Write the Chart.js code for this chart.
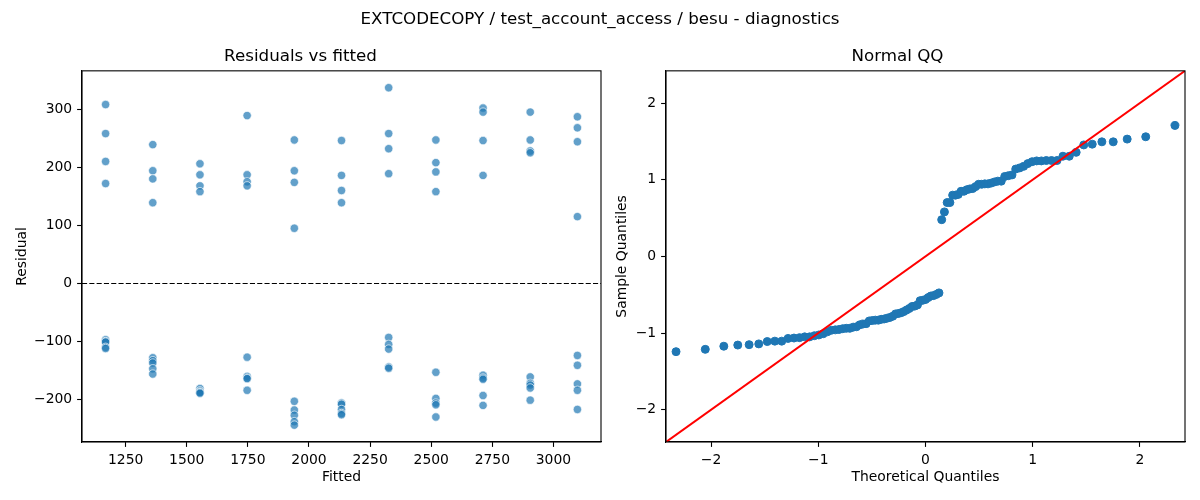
<!DOCTYPE html>
<html>
<head>
<meta charset="utf-8">
<script src="https://cdn.jsdelivr.net/npm/chart.js@4.4.1/dist/chart.umd.min.js"></script>
<style>
html, body { margin: 0; padding: 0; background: #ffffff; }
#wrap { position: relative; width: 1200px; height: 500px; overflow: hidden; font-family: "DejaVu Sans", sans-serif; }
#sup { position: absolute; left: 0; top: 8px; width: 1200px; text-align: center; font-size: 16.7px; line-height: 20px; color: #000; z-index: 2; }
#box1 { position: absolute; left: 0; top: 0; width: 610px; height: 500px; }
#box2 { position: absolute; left: 610px; top: 0; width: 590px; height: 500px; }
</style>
</head>
<body>
<div id="wrap">
  <div id="sup">EXTCODECOPY / test_account_access / besu - diagnostics</div>
  <div id="box1"><canvas id="c1"></canvas></div>
  <div id="box2"><canvas id="c2"></canvas></div>
</div>
<script>
// ---- Data ----
const fittedGroups = [1168, 1361, 1554, 1747, 1940, 2133, 2326, 2519, 2712, 2905, 3098];
const residualsG1  = [308, 258, 210, 172, -97, -100, -101, -110, -112];
const residualsG2  = [239, 194, 180, 139, -128, -133, -137, -147, -156];
const residualsG3  = [206, 187, 168, 158, -181, -185, -187, -188, -189];
const residualsG4  = [289, 187, 175, 168, -127, -160, -163, -164, -184];
const residualsG5  = [247, 194, 174, 95, -203, -218, -227, -238, -244];
const residualsG6  = [246, 186, 160, 139, -206, -208, -217, -224, -226];
const residualsG7  = [337, 258, 232, 189, -93, -105, -113, -144, -146];
const residualsG8  = [247, 208, 192, 158, -153, -198, -206, -209, -230];
const residualsG9  = [302, 295, 246, 186, -158, -163, -165, -193, -210];
const residualsG10 = [295, 247, 228, 225, -161, -172, -175, -180, -201];
const residualsG11 = [287, 268, 244, 115, -124, -141, -173, -184, -217];
const residualGroups = [residualsG1, residualsG2, residualsG3, residualsG4, residualsG5, residualsG6,
                        residualsG7, residualsG8, residualsG9, residualsG10, residualsG11];
const fittedTickStep = 250;
const residualTickStep = 100;
const qqTickStep = 1;

// ---- Build the datasets ----
const residPoints = [];
const allResiduals = [];
fittedGroups.forEach((f, i) => {
  residualGroups[i].forEach(r => { residPoints.push({x: f, y: r}); allResiduals.push(r); });
});

// Normal QQ: standardized sorted residuals vs. normal plotting positions i/(n+1)
function normInv(p) {
  const a = [-3.969683028665376e+01, 2.209460984245205e+02, -2.759285104469687e+02, 1.383577518672690e+02, -3.066479806614716e+01, 2.506628277459239e+00];
  const b = [-5.447609879822406e+01, 1.615858368580409e+02, -1.556989798598866e+02, 6.680131188771972e+01, -1.328068155288572e+01];
  const c = [-7.784894002430293e-03, -3.223964580411365e-01, -2.400758277161838e+00, -2.549732539343734e+00, 4.374664141464968e+00, 2.938163982698783e+00];
  const d = [7.784695709041462e-03, 3.224671290700398e-01, 2.445134137142996e+00, 3.754408661907416e+00];
  const pl = 0.02425, ph = 1 - pl;
  let q, r;
  if (p < pl) {
    q = Math.sqrt(-2 * Math.log(p));
    return (((((c[0]*q+c[1])*q+c[2])*q+c[3])*q+c[4])*q+c[5]) / ((((d[0]*q+d[1])*q+d[2])*q+d[3])*q+1);
  }
  if (p <= ph) {
    q = p - 0.5; r = q * q;
    return (((((a[0]*r+a[1])*r+a[2])*r+a[3])*r+a[4])*r+a[5])*q / (((((b[0]*r+b[1])*r+b[2])*r+b[3])*r+b[4])*r+1);
  }
  q = Math.sqrt(-2 * Math.log(1 - p));
  return -(((((c[0]*q+c[1])*q+c[2])*q+c[3])*q+c[4])*q+c[5]) / ((((d[0]*q+d[1])*q+d[2])*q+d[3])*q+1);
}
const n = allResiduals.length;
const mean = allResiduals.reduce((s, v) => s + v, 0) / n;
const sd = Math.sqrt(allResiduals.reduce((s, v) => s + (v - mean) * (v - mean), 0) / n);
const sortedStd = allResiduals.slice().sort((p, q) => p - q).map(v => (v - mean) / sd);
const qqPoints = sortedStd.map((s, i) => ({x: normInv((i + 1) / (n + 1)), y: s}));

// Axis limits
const fMin = Math.min(...fittedGroups), fMax = Math.max(...fittedGroups);
const rMin = Math.min(...allResiduals), rMax = Math.max(...allResiduals);
const xLim1 = [fMin - 0.05 * (fMax - fMin), fMax + 0.05 * (fMax - fMin)];
const yLim1 = [rMin - 0.05 * (rMax - rMin), rMax + 0.05 * (rMax - rMin)];
const qqLim = [-2.42, 2.42];

// ---- Styling helpers ----
const FONT = 'DejaVu Sans';
const fmt = v => String(v).replace('-', '\u2212');
function axis(lim, step, title, fixedSize, isY, titlePad) {
  return {
    type: 'linear',
    min: lim[0], max: lim[1],
    grid: { display: true, drawOnChartArea: false, drawTicks: true, tickLength: 4.9, tickWidth: 1.1, tickColor: '#000' },
    border: { display: true, color: '#000', width: 1.1 },
    ticks: { stepSize: step, includeBounds: false, autoSkip: false, maxRotation: 0, padding: 4.9,
             color: '#000', font: { family: FONT, size: 13.9 }, callback: v => fmt(v) },
    title: { display: true, text: title, color: '#000', font: { family: FONT, size: 13.9 }, padding: titlePad },
    afterFit: s => { if (isY) s.width = fixedSize; else s.height = fixedSize; }
  };
}
const frame = {
  id: 'frame',
  afterDatasetsDraw(chart) {
    const {ctx, chartArea: a} = chart;
    ctx.save();
    ctx.strokeStyle = '#000';
    ctx.lineWidth = 1.1;
    ctx.strokeRect(a.left, a.top, a.right - a.left, a.bottom - a.top);
    ctx.restore();
  }
};
Chart.defaults.font.family = FONT;

// ---- Residuals vs fitted ----
new Chart(document.getElementById('c1'), {
  type: 'scatter',
  data: {
    datasets: [
      { type: 'line', data: [{x: xLim1[0], y: 0}, {x: xLim1[1], y: 0}], borderColor: '#000', borderWidth: 1.1,
        borderDash: [5.1, 2.2], pointRadius: 0, fill: false, order: 0 },
      { data: residPoints, backgroundColor: 'rgba(31,119,180,0.7)', borderColor: 'rgba(255,255,255,0.8)',
        borderWidth: 0.8, pointRadius: 4.2, pointHoverRadius: 4.2, order: 1 }
    ]
  },
  options: {
    responsive: true, maintainAspectRatio: false, animation: false,
    layout: { padding: { left: 0, right: 9, top: 0, bottom: 0 } },
    plugins: {
      legend: { display: false }, tooltip: { enabled: false },
      title: { display: true, text: 'Residuals vs fitted', color: '#000', font: { family: FONT, size: 16.7, weight: 'normal' },
               padding: { top: 46.8, bottom: 4 } }
    },
    scales: {
      x: axis(xLim1, fittedTickStep, 'Fitted', 58, false, { top: 0, bottom: 14.7 }),
      y: axis(yLim1, residualTickStep, 'Residual', 82, true, { top: 13.7, bottom: 0 })
    }
  },
  plugins: [frame]
});

// ---- Normal QQ ----
new Chart(document.getElementById('c2'), {
  type: 'scatter',
  data: {
    datasets: [
      { type: 'line', data: [{x: qqLim[0], y: qqLim[0]}, {x: qqLim[1], y: qqLim[1]}], borderColor: '#ff0000',
        borderWidth: 2, pointRadius: 0, fill: false, order: 0 },
      { data: qqPoints, backgroundColor: '#1f77b4', borderColor: '#1f77b4', borderWidth: 1,
        pointRadius: 4, pointHoverRadius: 4, order: 1 }
    ]
  },
  options: {
    responsive: true, maintainAspectRatio: false, animation: false,
    layout: { padding: { left: 0, right: 15, top: 0, bottom: 0 } },
    plugins: {
      legend: { display: false }, tooltip: { enabled: false },
      title: { display: true, text: 'Normal QQ', color: '#000', font: { family: FONT, size: 16.7, weight: 'normal' },
               padding: { top: 46.8, bottom: 4 } }
    },
    scales: {
      x: axis(qqLim, qqTickStep, 'Theoretical Quantiles', 58, false, { top: 0, bottom: 14.7 }),
      y: axis(qqLim, qqTickStep, 'Sample Quantiles', 56, true, { top: 3.7, bottom: 0 })
    }
  },
  plugins: [frame]
});
</script>
</body>
</html>
